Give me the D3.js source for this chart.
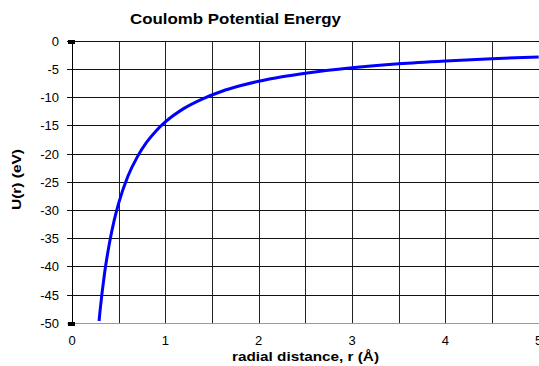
<!DOCTYPE html>
<html>
<head>
<meta charset="utf-8">
<script src="https://cdn.jsdelivr.net/npm/d3@7"></script>
<style>
  body { margin: 0; background: #fff; }
  text { font-family: Arial, "Liberation Sans", sans-serif; }
</style>
</head>
<body>
<div id="chart"></div>
<script>
// radial distance r (Å) and potential U(r) (eV)
const rValues = [0.29, 0.3, 0.35, 0.4, 0.45, 0.5, 0.6, 0.7, 0.8, 0.9, 1.0, 1.2, 1.4, 1.6, 1.8, 2.0, 2.25, 2.5, 3.0, 3.5, 4.0, 4.5, 5.0];
const uValues = [-49.7, -48, -41.1, -36, -32, -28.8, -24, -20.6, -18, -16, -14.4, -12, -10.3, -9, -8, -7.2, -6.4, -5.76, -4.8, -4.1, -3.6, -3.2, -2.88];
const xTicks = [0, 1, 2, 3, 4, 5];
const xGrid = [0, 0.5, 1, 1.5, 2, 2.5, 3, 3.5, 4, 4.5, 5];
const yTicks = [0, -5, -10, -15, -20, -25, -30, -35, -40, -45, -50];

const width = 539, height = 366;
const plotLeft = 72, plotRight = 538.7, plotTop = 40.7, plotBottom = 322.7;

const svg = d3.select("#chart")
  .append("svg")
  .attr("width", width)
  .attr("height", height);

const x = d3.scaleLinear().domain([0, 5]).range([plotLeft, plotRight]);
const y = d3.scaleLinear().domain([-50, 0]).range([plotBottom, plotTop]);

// grid
const grid = svg.append("g").attr("shape-rendering", "crispEdges");
grid.selectAll("line.v")
  .data(xGrid)
  .enter()
  .append("line")
  .attr("x1", d => Math.round(x(d)) + 0.5)
  .attr("x2", d => Math.round(x(d)) + 0.5)
  .attr("y1", plotTop)
  .attr("y2", plotBottom)
  .attr("stroke", d => d === 0 ? "#000" : "#222")
  .attr("stroke-width", 1);
grid.selectAll("line.h")
  .data(yTicks)
  .enter()
  .append("line")
  .attr("x1", plotLeft - 5)
  .attr("x2", width)
  .attr("y1", d => Math.round(y(d)) + 0.5)
  .attr("y2", d => Math.round(y(d)) + 0.5)
  .attr("stroke", d => d === -50 ? "#999" : "#111")
  .attr("stroke-width", 1);

// little markers on the y axis ends
svg.selectAll("rect.mark")
  .data([0, -50])
  .enter()
  .append("rect")
  .attr("x", plotLeft - 4)
  .attr("y", d => Math.round(y(d)) - 1)
  .attr("width", 7)
  .attr("height", 4)
  .attr("fill", "#000");

// y tick labels
svg.selectAll("text.yt")
  .data(yTicks)
  .enter()
  .append("text")
  .attr("x", 59)
  .attr("y", d => y(d) + 5)
  .attr("text-anchor", "end")
  .attr("font-size", 13)
  .attr("fill", "#000")
  .text(d => d);

// x tick labels
svg.selectAll("text.xt")
  .data(xTicks)
  .enter()
  .append("text")
  .attr("x", d => x(d))
  .attr("y", 345)
  .attr("text-anchor", "middle")
  .attr("font-size", 13)
  .attr("fill", "#000")
  .text(d => d);

// curve
const pts = rValues.map((r, i) => [r, uValues[i]]);
svg.append("path")
  .datum(pts)
  .attr("fill", "none")
  .attr("stroke", "#0000ff")
  .attr("stroke-width", 3)
  .attr("d", d3.line()
    .x(d => x(d[0]))
    .y(d => y(d[1]))
    .curve(d3.curveMonotoneX));

// titles
svg.append("text")
  .attr("x", 130)
  .attr("y", 24)
  .attr("font-size", 15.5)
  .attr("font-weight", "bold")
  .attr("textLength", 211)
  .attr("lengthAdjust", "spacingAndGlyphs")
  .text("Coulomb Potential Energy");

svg.append("text")
  .attr("x", 232)
  .attr("y", 361)
  .attr("font-size", 13.5)
  .attr("font-weight", "bold")
  .attr("textLength", 147)
  .attr("lengthAdjust", "spacingAndGlyphs")
  .text("radial distance, r (Å)");

svg.append("text")
  .attr("transform", "translate(21,210) rotate(-90)")
  .attr("font-size", 13)
  .attr("font-weight", "bold")
  .attr("textLength", 61)
  .attr("lengthAdjust", "spacingAndGlyphs")
  .text("U(r) (eV)");
</script>
</body>
</html>
